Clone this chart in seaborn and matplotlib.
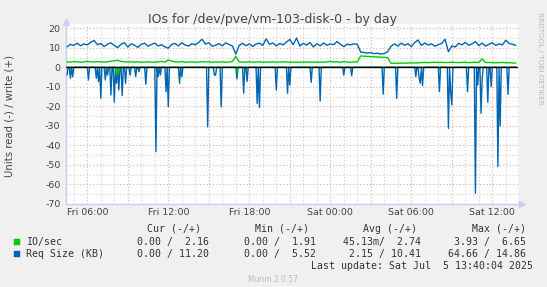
import numpy as np
import pandas as pd
import matplotlib
matplotlib.use('Agg')
import matplotlib.pyplot as plt
import seaborn as sns
from matplotlib.patches import Rectangle

sns.set_theme(style='white')
plt.rcParams['font.family'] = ['DejaVu Sans']

# ---------------- data ----------------
# hours since Fri 00:00; write series sampled every 15 min from 04:30 Fri
write_start_h = 4.5
write_step_h = 0.25
size_write = [
    10.5, 11.8, 11.2, 12.4, 11.0, 12.0, 11.5, 12.8, 13.8, 11.6, 12.2, 10.6, 11.9, 12.5, 11.2, 10.1,
    11.8, 12.6, 10.4, 12.0, 11.3, 10.2, 11.9, 12.3, 10.8, 11.7, 12.4, 10.9, 11.6, 10.5, 9.8, 11.8,
    12.2, 11.0, 12.6, 11.4, 10.9, 12.1, 11.5, 12.8, 14.4, 11.9, 12.6, 10.8, 11.3, 12.2, 11.0, 12.5,
    11.7, 10.9, 6.8, 11.2, 12.3, 11.1, 12.0, 10.7, 11.9, 12.4, 11.2, 14.6, 11.8, 12.5, 11.0, 12.2,
    11.5, 12.9, 14.3, 11.6, 15.0, 10.9, 12.3, 11.4, 12.7, 10.4, 12.1, 11.0, 12.5, 11.3, 12.0, 11.6,
    13.2, 11.8, 10.6, 11.9, 11.5, 12.0, 11.8, 7.8, 7.6, 7.3, 7.5, 7.0, 7.2, 6.8, 7.1, 8.0,
    10.8, 12.0, 10.9, 12.4, 11.3, 12.1, 10.6, 12.7, 14.0, 11.2, 12.5, 11.4, 12.0, 10.8, 11.6, 12.2,
    14.4, 8.0, 11.0, 10.4, 12.3, 11.5, 12.8, 11.3, 12.0, 13.2, 11.1, 12.4, 10.9, 11.8, 12.6, 11.2,
    12.0, 11.5, 13.9, 12.2, 11.8, 11.2,
]
io_write = [
    2.8, 2.7, 2.9, 2.8, 2.6, 2.8, 3.0, 2.8, 2.7, 2.9, 2.8, 2.7, 2.8, 3.1, 3.4, 3.6,
    3.0, 2.8, 2.7, 2.8, 2.7, 2.8, 2.6, 2.7, 2.8, 2.6, 2.7, 2.8, 3.0, 2.7, 3.8, 3.2,
    2.8, 2.7, 2.9, 2.6, 2.7, 2.8, 2.6, 2.7, 2.9, 2.7, 2.8, 2.6, 2.7, 2.7, 2.8, 2.6,
    2.7, 3.0, 5.6, 2.8, 2.6, 2.7, 2.8, 2.6, 2.7, 2.8, 2.6, 2.7, 2.7, 2.8, 2.6, 2.7,
    2.8, 2.7, 2.6, 2.7, 2.6, 2.7, 2.6, 2.7, 2.6, 2.7, 2.6, 2.7, 2.6, 2.8, 3.0, 2.7,
    2.8, 2.6, 2.9, 2.7, 2.6, 2.8, 2.7, 5.8, 5.7, 5.6, 5.5, 5.4, 5.3, 5.2, 5.1, 5.0,
    2.0, 2.1, 2.1, 2.2, 2.1, 2.2, 2.3, 2.2, 2.3, 2.4, 2.5, 2.4, 2.5, 2.6, 2.5, 2.6,
    2.4, 2.5, 2.6, 2.5, 2.4, 2.5, 2.6, 2.4, 2.5, 2.6, 2.5, 4.3, 2.4, 2.5, 2.4, 2.3,
    2.4, 2.5, 2.3, 2.4, 2.2, 2.2,
]
# read series (drawn negative), 5-min samples; zero except these samples
read_start_h = 4.5
read_end_h = 37.75
size_read_hours = [
    4.50, 4.72, 4.89, 6.05, 6.70, 6.87, 7.04, 7.36, 7.48, 7.73, 7.98, 8.18, 8.35, 8.59, 8.84,
    9.16, 9.59, 9.83, 10.37, 11.11, 11.26, 11.44, 11.81, 11.96, 12.84, 13.04, 14.89, 15.39,
    15.51, 15.93, 17.07, 17.56, 17.85, 18.55, 18.72, 20.03, 20.81, 20.99, 22.55, 23.29, 24.96,
    25.56, 27.90, 28.89, 30.37, 30.57, 30.70, 30.81, 32.05, 32.74, 32.92, 33.04, 34.15, 34.72,
    34.89, 35.14, 35.26, 35.70, 35.88, 36.44, 36.62, 37.19,
]
size_read_values = [
    3.9, 5.6, 4.8, 6.5, 5.6, 7.3, 15.9, 6.5, 4.0, 14.2, 17.9, 8.2, 11.6, 14.5, 8.2,
    4.0, 4.8, 2.2, 8.7, 43.3, 4.8, 3.9, 12.5, 20.2, 8.2, 4.8, 30.5, 4.0,
    4.0, 20.2, 6.0, 13.3, 7.3, 18.5, 20.7, 11.6, 13.3, 9.1, 7.7, 17.3, 4.0,
    4.3, 13.8, 15.9, 4.8, 5.6, 8.2, 9.4, 12.5, 31.3, 12.5, 19.3, 12.5, 64.6,
    9.1, 23.6, 5.6, 17.9, 9.9, 50.9, 30.0, 13.8,
]
io_read_hours = [7.48, 8.18, 8.35, 17.07, 17.85, 32.05]
io_read_values = [1.0, 3.9, 2.0, 2.5, 1.0, 1.5]

tick_hours = [6, 9, 12, 15, 18, 21, 24, 27, 30, 33, 36]
tick_labels = ['Fri 06:00', '', 'Fri 12:00', '', 'Fri 18:00', '', 'Sat 00:00', '', 'Sat 06:00', '', 'Sat 12:00']
y_ticks = [20, 10, 0, -10, -20, -30, -40, -50, -60, -70]

legend_names = ['IO/sec', 'Req Size (KB)']
legend_headers = ['Cur (-/+)', 'Min (-/+)', 'Avg (-/+)', 'Max (-/+)']
legend_cur = ['0.00 /  2.16', '0.00 / 11.20']
legend_min = ['0.00 /  1.91', '0.00 /  5.52']
legend_avg = ['45.13m/  2.74', '2.15 / 10.41']
legend_max = ['3.93 /  6.65', '64.66 / 14.86']
colors = ['#00CC00', '#0066B3']

# ---------------- build frames ----------------
tw = write_start_h + write_step_h * np.arange(len(size_write))
n5 = int(round((read_end_h - read_start_h) * 12)) + 1
t5 = read_start_h + np.arange(n5) / 12.0
size_read = np.zeros(n5)
io_read = np.zeros(n5)
for h, v in zip(size_read_hours, size_read_values):
    i = int(round((h - read_start_h) * 12))
    size_read[i] = min(size_read[i], -v)
for h, v in zip(io_read_hours, io_read_values):
    i = int(round((h - read_start_h) * 12))
    io_read[i] = min(io_read[i], -v)

df_w = pd.DataFrame({'hour': tw, 'size': size_write, 'io': io_write})
df_r = pd.DataFrame({'hour': t5, 'size': size_read, 'io': io_read})

# ---------------- figure ----------------
W, H = 547, 287
fig = plt.figure(figsize=(W / 100, H / 100), dpi=100, facecolor='#F0F0F0')
px = lambda x: x / W
py = lambda y: 1 - y / H

ax_l, ax_r, ax_t, ax_b = 66, 518, 24.3, 203.8
ax = fig.add_axes([px(ax_l), py(ax_b), (ax_r - ax_l) / W, (ax_b - ax_t) / H])
ax.set_facecolor('white')

x0 = 6 + (ax_l - 87.3) / 13.5
x1 = 6 + (ax_r - 87.3) / 13.5
ax.set_xlim(x0, x1)
ax.set_ylim(-70, 20 + (28.3 - ax_t) / 1.95)

# grid
grid_dot = (0, (1, 2))
for h in np.arange(5, 38):
    if h % 3 == 0:
        ax.axvline(h, color='#E8A8A8', lw=0.8, ls=grid_dot, zorder=1)
    else:
        ax.axvline(h, color='#CFCFCF', lw=0.8, ls=grid_dot, zorder=1)
for v in range(-70, 21, 5):
    if v == 0:
        continue
    if v % 10 == 0:
        ax.axhline(v, color='#E8A8A8', lw=0.8, ls=grid_dot, zorder=1)
    else:
        ax.axhline(v, color='#CFCFCF', lw=0.8, ls=grid_dot, zorder=1)

sns.lineplot(data=df_r, x='hour', y='size', ax=ax, color=colors[1], lw=1.0, estimator=None, zorder=3)
sns.lineplot(data=df_r, x='hour', y='io', ax=ax, color=colors[0], lw=1.0, estimator=None, zorder=4)
sns.lineplot(data=df_w, x='hour', y='size', ax=ax, color=colors[1], lw=1.0, estimator=None, zorder=3)
sns.lineplot(data=df_w, x='hour', y='io', ax=ax, color=colors[0], lw=1.0, estimator=None, zorder=4)
ax.axhline(0, color='black', lw=1.0, zorder=5)

ax.set_xlabel('')
ax.set_ylabel('')
ax.set_xticks(tick_hours)
ax.set_xticklabels(tick_labels)
ax.set_yticks(y_ticks)
ax.set_yticklabels([str(v) for v in y_ticks])
ax.tick_params(axis='both', length=2, width=0.8, color='#E8A8A8', direction='in',
               labelsize=6.8, labelcolor='#444444')
ax.tick_params(axis='x', pad=3)
ax.tick_params(axis='y', pad=4)

for s in ['top', 'right']:
    ax.spines[s].set_visible(False)
for s in ['left', 'bottom']:
    ax.spines[s].set_color('#C8D0F4')
    ax.spines[s].set_linewidth(1.0)
fig.add_artist(plt.Line2D([px(ax_r), px(522)], [py(ax_b), py(ax_b)], color='#C8D0F4', lw=1.0))
fig.add_artist(plt.Line2D([px(522)], [py(ax_b)], marker='>', color='#C8D0F4', ms=4, ls=''))
fig.add_artist(plt.Line2D([px(ax_l)], [py(22)], marker='^', color='#C8D0F4', ms=4, ls=''))

# texts
fig.text(px(273), py(20), 'IOs for /dev/pve/vm-103-disk-0 - by day', ha='center', va='center',
         fontsize=9, color='#444444')
fig.text(px(9.5), py(116), 'Units read (-) / write (+)', rotation=90, ha='center', va='center',
         fontsize=7.3, color='#444444')
fig.text(px(540), py(12), 'RRDTOOL / TOBI OETIKER', rotation=270, ha='center', va='top',
         fontsize=5.2, color='#B8B8B8')

mono = dict(family='DejaVu Sans Mono', fontsize=7.1, color='#333333', va='center')
hdr_right = [200.6, 308.8, 417, 525.8]
val_right = [209.4, 315.8, 421, 526]
for hx, s in zip(hdr_right, legend_headers):
    fig.text(px(hx), py(228.6), s, ha='right', **mono)
rows_y = [241.5, 254.0]
for i, name in enumerate(legend_names):
    y = rows_y[i]
    fig.add_artist(Rectangle((px(14), py(y + 3)), 5.5 / W, 6 / H, facecolor=colors[i],
                             edgecolor=colors[i], lw=0.3, transform=fig.transFigure))
    fig.text(px(26), py(y), name, ha='left', **mono)
    for vx, col in zip(val_right, [legend_cur, legend_min, legend_avg, legend_max]):
        fig.text(px(vx), py(y), col[i], ha='right', **mono)
fig.text(px(532.8), py(266.3), 'Last update: Sat Jul  5 13:40:04 2025', ha='right', **mono)
fig.text(px(273), py(279.5), 'Munin 2.0.57', ha='center', va='center', fontsize=5.5, color='#BBBBBB')

fig.savefig('out.png', dpi=100, facecolor=fig.get_facecolor())
